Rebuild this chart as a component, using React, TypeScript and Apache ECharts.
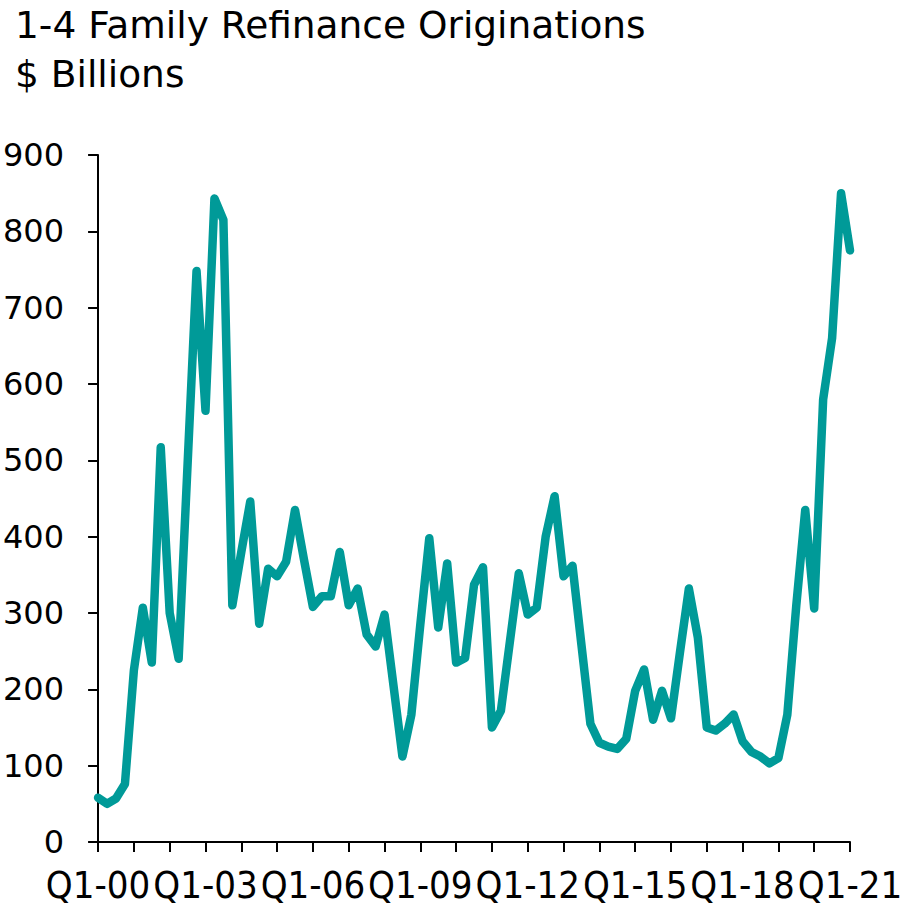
import React, { useEffect, useRef } from "react";
import * as echarts from "echarts";

const titleLines = ["1-4 Family Refinance Originations", "$ Billions"];

const startYear = 2000;
const quarterCount = 85; // Q1-00 .. Q1-21
const quarters: string[] = [];
for (let i = 0; i < quarterCount; i++) {
  const y = startYear + Math.floor(i / 4);
  quarters.push(`Q${(i % 4) + 1}-${String(y % 100).padStart(2, "0")}`);
}

const refinanceOriginations = [
  58, 50, 57, 76, 225, 307, 235, 517, 300, 240,
  495, 748, 565, 843, 815, 310, 380, 446, 286, 358,
  348, 367, 435, 370, 308, 322, 322, 380, 310, 332,
  272, 256, 298, 205, 112, 167, 285, 398, 281, 365,
  235, 241, 337, 360, 150, 172, 262, 352, 298, 307,
  400, 453, 348, 362, 258, 155, 130, 125, 122, 135,
  198, 226, 160, 198, 162, 248, 332, 268, 150, 146,
  155, 167, 132, 118, 112, 103, 110, 167, 310, 435,
  306, 580, 660, 850, 775,
];

const yTicks = { min: 0, max: 900, interval: 100 };

const FONT = "'DejaVu Sans', Verdana, sans-serif";
const FONT_COND = "'DejaVu Sans Condensed', 'Liberation Sans Narrow', 'DejaVu Sans', sans-serif";

export default function App() {
  const ref = useRef<HTMLDivElement>(null);
  useEffect(() => {
    if (!ref.current) return;
    const chart = echarts.init(ref.current, null, { renderer: "svg" });
    chart.setOption({
      animation: false,
      backgroundColor: "#ffffff",
      title: {
        text: titleLines.join("\n"),
        left: 15,
        top: 0,
        padding: 0,
        textStyle: {
          fontFamily: FONT,
          fontSize: 37.5,
          fontWeight: "normal",
          color: "#000000",
          lineHeight: 49,
        },
      },
      grid: { left: 95, right: 64, top: 155, bottom: 66, containLabel: false },
      xAxis: {
        type: "category",
        data: quarters,
        boundaryGap: false,
        axisLine: { lineStyle: { color: "#000000", width: 2 } },
        axisTick: { show: true, interval: 3, length: 10, lineStyle: { color: "#000000", width: 2 } },
        axisLabel: {
          interval: 11,
          margin: 24,
          fontFamily: FONT_COND,
          fontSize: 38,
          color: "#000000",
        },
        splitLine: { show: false },
      },
      yAxis: {
        type: "value",
        min: yTicks.min,
        max: yTicks.max,
        interval: yTicks.interval,
        axisLine: { show: true, lineStyle: { color: "#000000", width: 2 } },
        axisTick: { show: true, length: 10, lineStyle: { color: "#000000", width: 2 } },
        axisLabel: {
          margin: 34,
          fontFamily: FONT,
          fontSize: 32,
          color: "#000000",
        },
        splitLine: { show: false },
      },
      series: [
        {
          type: "line",
          data: refinanceOriginations,
          showSymbol: false,
          symbol: "none",
          lineStyle: { color: "#009A98", width: 8.5, cap: "round", join: "round" },
        },
      ],
    });
    return () => chart.dispose();
  }, []);
  return (
    <div
      ref={ref}
      style={{ position: "fixed", left: 0, top: 0, width: 914, height: 908 }}
    />
  );
}
